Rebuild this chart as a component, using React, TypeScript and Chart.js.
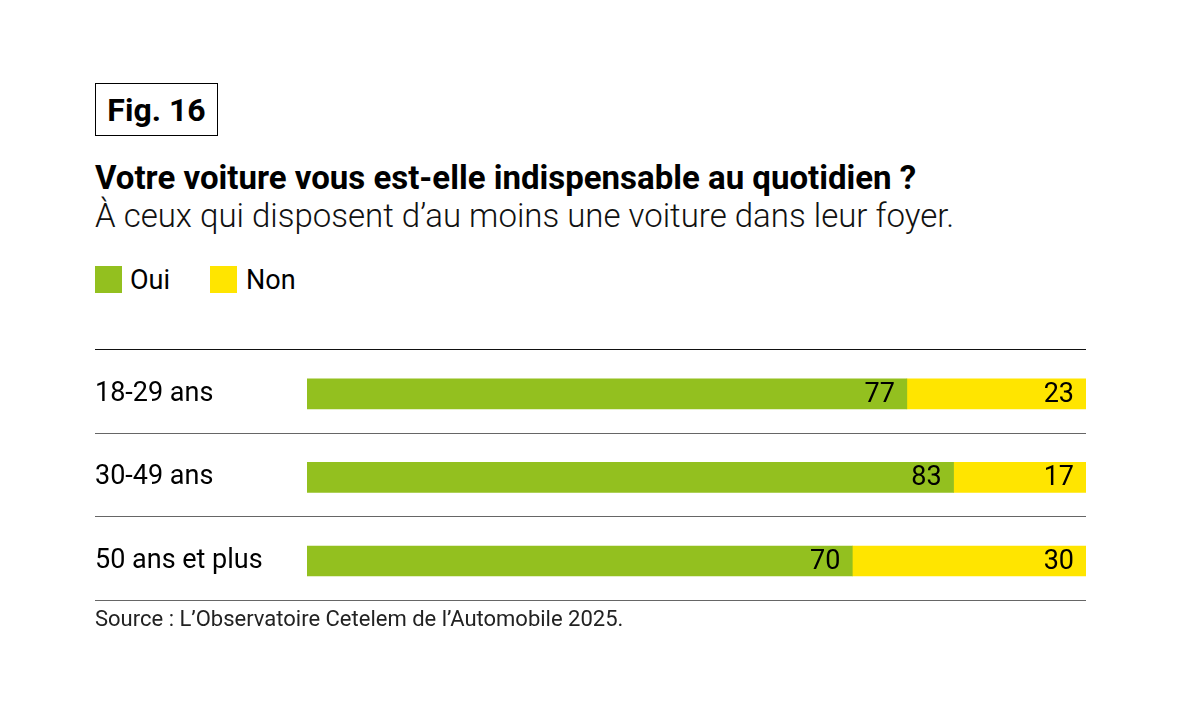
import React, { useEffect, useRef } from "react";
import { Chart, registerables } from "chart.js";

Chart.register(...registerables);

const categories = ["18-29 ans", "30-49 ans", "50 ans et plus"];
const oui = [77, 83, 70];
const non = [23, 17, 30];
const seriesNames = ["Oui", "Non"];
const GREEN = "#93C01F";
const YELLOW = "#FFE500";
const FONT = "'Liberation Sans Narrow', 'Roboto', sans-serif";

const rowLines = {
  id: "rowLines",
  afterDraw(chart: any) {
    const { ctx, chartArea } = chart;
    const y = chart.scales.y;
    const n = categories.length;
    const step = n > 1 ? y.getPixelForValue(1) - y.getPixelForValue(0) : chartArea.bottom - chartArea.top;
    ctx.save();
    for (let i = 0; i <= n; i++) {
      const py = Math.round(y.getPixelForValue(0) - step / 2 + i * step - 3) + 0.5;
      ctx.beginPath();
      ctx.strokeStyle = i === 0 ? "#111" : "#666";
      ctx.lineWidth = 1.2;
      ctx.moveTo(95, py);
      ctx.lineTo(chartArea.right, py);
      ctx.stroke();
    }
    ctx.restore();
  },
};

const valueLabels = {
  id: "valueLabels",
  afterDatasetsDraw(chart: any) {
    const { ctx } = chart;
    ctx.save();
    ctx.font = `27px ${FONT}`;
    ctx.fillStyle = "#000";
    ctx.textAlign = "right";
    ctx.textBaseline = "middle";
    chart.data.datasets.forEach((ds: any, di: number) => {
      const meta = chart.getDatasetMeta(di);
      meta.data.forEach((bar: any, i: number) => {
        ctx.fillText(String(ds.data[i]), bar.x - 12, bar.y + 1);
      });
    });
    ctx.restore();
  },
};

export default function App() {
  const ref = useRef<HTMLCanvasElement>(null);
  useEffect(() => {
    document.body.style.margin = "0";
    const chart = new Chart(ref.current!, {
      type: "bar",
      data: {
        labels: categories,
        datasets: [
          { label: seriesNames[0], data: oui, backgroundColor: GREEN, barThickness: 30 },
          { label: seriesNames[1], data: non, backgroundColor: YELLOW, barThickness: 30 },
        ],
      },
      options: {
        indexAxis: "y",
        animation: false,
        responsive: false,
        layout: { padding: { left: 95, right: 95, top: 22, bottom: 7 } },
        plugins: { legend: { display: false }, tooltip: { enabled: false } },
        scales: {
          x: { stacked: true, min: 0, max: 100, display: false },
          y: {
            stacked: true,
            border: { display: false },
            grid: { display: false },
            ticks: {
              crossAlign: "far",
              color: "#000",
              padding: 0,
              font: { family: FONT, size: 27, weight: "normal" },
            },
            afterFit(scale: any) {
              scale.width = 212;
            },
          },
        },
      },
      plugins: [rowLines, valueLabels],
    });
    return () => chart.destroy();
  }, []);

  return (
    <div style={{ position: "relative", width: 1181, height: 709, background: "#fff", fontFamily: FONT, color: "#000" }}>
      <div
        style={{
          position: "absolute", left: 95, top: 83, width: 121, height: 51,
          border: "1.5px solid #000", display: "flex", alignItems: "center", justifyContent: "center",
          fontWeight: 700, fontSize: 32,
        }}
      >
        Fig. 16
      </div>
      <div style={{ position: "absolute", left: 95, top: 158, fontWeight: 700, fontSize: 33, whiteSpace: "nowrap" }}>
        Votre voiture vous est-elle indispensable au quotidien ?
      </div>
      <div style={{ position: "absolute", left: 95, top: 196, fontWeight: 300, fontSize: 33, whiteSpace: "nowrap", color: "#111" }}>
        À ceux qui disposent d’au moins une voiture dans leur foyer.
      </div>
      <div style={{ position: "absolute", left: 95, top: 266, display: "flex", alignItems: "center", fontSize: 27, height: 27 }}>
        <span style={{ width: 27, height: 27, background: GREEN, display: "inline-block" }} />
        <span style={{ marginLeft: 8, width: 80 }}>{seriesNames[0]}</span>
        <span style={{ width: 27, height: 27, background: YELLOW, display: "inline-block" }} />
        <span style={{ marginLeft: 9 }}>{seriesNames[1]}</span>
      </div>
      <canvas ref={ref} width={1181} height={289} style={{ position: "absolute", left: 0, top: 330, width: 1181, height: 289 }} />
      <div style={{ position: "absolute", left: 95, top: 606, fontSize: 22, color: "#222", whiteSpace: "nowrap" }}>
        Source : L’Observatoire Cetelem de l’Automobile 2025.
      </div>
    </div>
  );
}
